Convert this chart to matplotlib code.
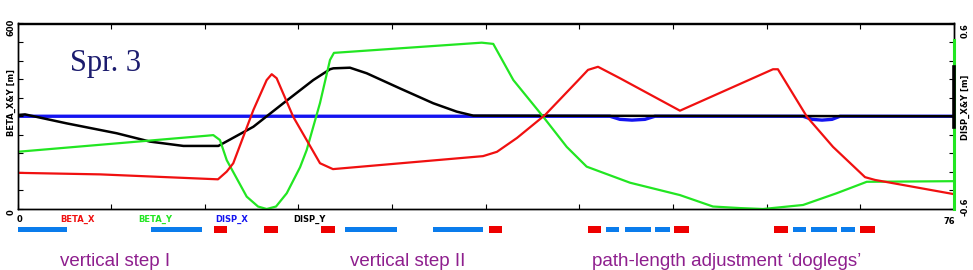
import matplotlib
matplotlib.use("Agg")
import matplotlib.pyplot as plt
import matplotlib.transforms as mtransforms
from matplotlib.patches import Rectangle

# ---------------- data ----------------
betx_s = [0, 6.70, 16.27, 16.98, 17.51, 19.14, 20.22, 20.63, 21.03, 22.38, 24.55, 25.60,
          37.78, 38.91, 40.54, 42.81, 45.40, 46.30, 47.11, 48.89, 53.76, 61.31, 61.71,
          64.07, 66.18, 68.78, 69.59, 76.0]
betx = [117, 112, 96, 121, 148, 320, 417, 436, 423, 298, 148, 129,
        171, 185, 230, 304, 412, 450, 460, 423, 318, 452, 452,
        298, 201, 103, 94, 48]

bety_s = [0, 15.35, 15.89, 16.43, 16.98, 18.60, 19.52, 20.22, 20.98, 21.85, 22.93, 23.47,
          24.55, 25.36, 25.68, 37.67, 38.61, 40.24, 42.67, 44.57, 46.19, 47.27, 49.71,
          53.76, 56.44, 58.63, 60.50, 63.75, 66.48, 68.92, 76.0]
bety = [185, 237, 239, 223, 158, 40, 8, 0, 8, 51, 135, 191,
        343, 482, 505, 538, 534, 417, 298, 201, 137, 121, 85,
        45, 8, 3, 0, 13, 51, 88, 90]

dx_s = [0, 48.08, 48.89, 49.87, 50.92, 51.73, 63.75, 64.48, 65.29, 66.10, 66.75, 76.0]
dx = [0, 0, -0.020, -0.025, -0.020, 0, 0, -0.020, -0.025, -0.020, 0, 0]

dy_s = [0, 0.61, 3.99, 8.05, 10.75, 13.46, 16.30, 19.14, 21.57, 24.00, 25.36, 25.63,
        26.98, 28.34, 31.04, 33.74, 35.64, 36.99, 76.0]
dy = [0.008, 0.012, -0.046, -0.110, -0.164, -0.192, -0.192, -0.068, 0.084, 0.234, 0.304, 0.310,
      0.314, 0.278, 0.180, 0.084, 0.030, 0.004, 0.0]

# end-of-line markers drawn on the right edge (beta units)
edge_green = [0, 547]
edge_black = [265, 459]

# lattice elements (start, end) in s
blue_bars = [(0, 4.02), (10.83, 14.97), (26.58, 30.80), (33.72, 37.78),
             (47.76, 48.81), (49.30, 51.41), (51.73, 52.95),
             (62.91, 63.95), (64.40, 66.51), (66.83, 67.97)]
red_bars = [(15.95, 17.0), (20.0, 21.14), (24.63, 25.77), (38.26, 39.32),
            (46.26, 47.33), (53.28, 54.5), (61.36, 62.53), (68.37, 69.59)]

legend_names = ["BETA_X", "BETA_Y", "DISP_X", "DISP_Y"]
section_labels = ["vertical step I", "vertical step II",
                  "path-length adjustment \u2018doglegs\u2019"]

# ---------------- styling ----------------
RED = "#f01010"
GREEN = "#22e622"
BLUE = "#1414f0"
BLACK = "#000000"
BAR_BLUE = "#0a7cec"
BAR_RED = "#ee0000"
PURPLE = "#8e1f8e"

W, H = 973, 270
fig = plt.figure(figsize=(W / 100, H / 100), dpi=100)
fig.patch.set_facecolor("white")

x0, x1, yt, yb = 17.5, 954, 23.5, 209
ax = fig.add_axes([x0 / W, (H - yb) / H, (x1 - x0) / W, (yb - yt) / H])
ax2 = ax.twinx()
ax.set_zorder(ax2.get_zorder() + 1)
ax.patch.set_visible(False)

ax.set_xlim(0, 76)
ax.set_ylim(0, 600)
ax2.set_ylim(-0.6, 0.6)

ax2.plot(dx_s, dx, color=BLUE, lw=2.4, solid_capstyle="butt")
ax2.plot(dy_s, dy, color=BLACK, lw=1.8)
ax.plot(bety_s, bety, color=GREEN, lw=1.6)
ax.plot(betx_s, betx, color=RED, lw=1.6)
ax.plot([76, 76], edge_green, color=GREEN, lw=2.2, clip_on=False, zorder=4)
ax.plot([76, 76], edge_black, color=BLACK, lw=2.6, clip_on=False, zorder=5)

xt = [i * 7.6 for i in range(11)]
ax.set_xticks(xt)
ax.set_yticks(range(0, 601, 60))
ax2.set_yticks([-0.6 + 0.12 * i for i in range(11)])
ax.tick_params(direction="in", length=3.5, width=0.8, top=True, bottom=True,
               left=True, right=False, labelleft=False, labelbottom=False)
ax2.tick_params(direction="in", length=3.5, width=0.8, right=True,
                labelright=False)
for a in (ax, ax2):
    for sp in a.spines.values():
        sp.set_linewidth(1.0)
        sp.set_color("black")

# lattice bars below axis
trans = mtransforms.blended_transform_factory(ax.transData, ax.transAxes)
for s0, s1 in blue_bars:
    ax.add_patch(Rectangle((s0, -0.1256), s1 - s0, 0.027, transform=trans,
                           color=BAR_BLUE, clip_on=False, lw=0))
for s0, s1 in red_bars:
    ax.add_patch(Rectangle((s0, -0.1278), s1 - s0, 0.036, transform=trans,
                           color=BAR_RED, clip_on=False, lw=0))

def fx(px):
    return px / W

def fy(py):
    return (H - py) / H

small = dict(fontsize=6, fontweight="bold", family="DejaVu Sans")
# axis labels
fig.text(fx(11), fy(27), "600", rotation=90, ha="center", va="center", **small)
fig.text(fx(11), fy(212), "0", rotation=90, ha="center", va="center", **small)
fig.text(fx(11), fy(102), "BETA_X&Y [m]", rotation=90, ha="center", va="center", **small)
fig.text(fx(965), fy(31), "0.6", rotation=90, ha="center", va="center", **small)
fig.text(fx(965), fy(207), "-0.6", rotation=90, ha="center", va="center", **small)
fig.text(fx(965), fy(107), "DISP_X&Y [m]", rotation=90, ha="center", va="center", **small)
fig.text(fx(17), fy(219.5), "0", ha="left", va="center", **small)
fig.text(fx(955), fy(221.5), "76", ha="right", va="center", **small)

leg_x = [60, 138, 215, 293]
leg_c = [RED, GREEN, BLUE, BLACK]
for name, px, c in zip(legend_names, leg_x, leg_c):
    fig.text(fx(px), fy(219.5), name, color=c, ha="left", va="center", **small)

# title-like label
fig.text(fx(70), fy(71), "Spr. 3", family="Liberation Serif", fontsize=22,
         color="#1c1c6e", ha="left", va="baseline")

# section labels
sec_x = [60, 350, 592]
for lab, px in zip(section_labels, sec_x):
    fig.text(fx(px), fy(266), lab, family="Liberation Sans", fontsize=13.5,
             color=PURPLE, ha="left", va="baseline")

fig.savefig("out.png", dpi=100, facecolor="white")
